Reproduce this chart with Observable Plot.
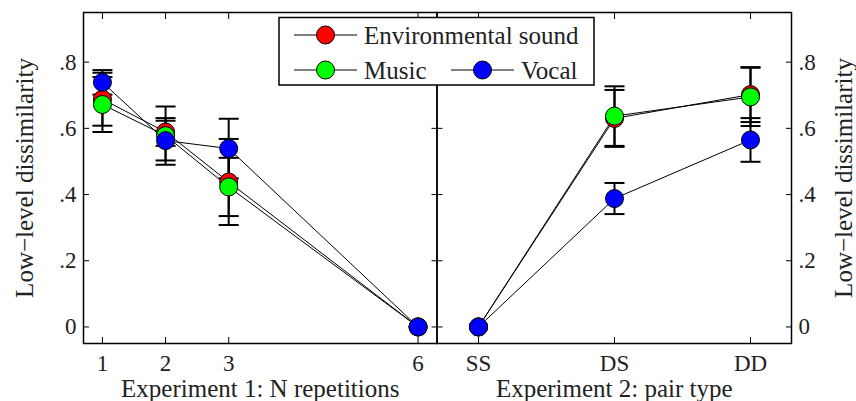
<!DOCTYPE html>
<html>
<head>
<meta charset="utf-8">
<script src="https://cdn.jsdelivr.net/npm/d3@7"></script>
<script src="https://cdn.jsdelivr.net/npm/@observablehq/plot@0.6"></script>
<style>
  body { margin: 0; background: #fff; }
  #chart { position: relative; width: 856px; height: 401px; overflow: hidden;
           font-family: "Liberation Serif", "Times New Roman", serif; color: #222; }
  #chart > svg { position: absolute; top: 0; }
</style>
</head>
<body>
<div id="chart"></div>
<script>
// Sound categories and their marker colours
const seriesNames = ["Environmental sound", "Music", "Vocal"];
const seriesColors = ["#ff0000", "#00ff00", "#0000ff"];

// Experiment 1: number of repetitions
const repetitions = [1, 2, 3, 6];
const exp1Env = [0.688, 0.589, 0.438, 0];
const exp1Music = [0.672, 0.578, 0.423, 0];
const exp1Vocal = [0.739, 0.563, 0.539, 0];
const exp1EnvErr = [0.08, 0.042, 0.13, 0];
const exp1MusicErr = [0.083, 0.088, 0.088, 0];
const exp1VocalErr = [0.037, 0.06, 0.09, 0];

// Experiment 2: pair type
const pairTypes = ["SS", "DS", "DD"];
const exp2Env = [0, 0.630, 0.702];
const exp2Music = [0, 0.637, 0.695];
const exp2Vocal = [0, 0.388, 0.565];
const exp2EnvErr = [0, 0.086, 0.083];
const exp2MusicErr = [0, 0.09, 0.088];
const exp2VocalErr = [0, 0.047, 0.066];

// Shared y axis
const yTicks = [0, 0.2, 0.4, 0.6, 0.8];
const yLabel = "Low\u2212level dissimilarity";

function toRows(xs, values, errors) {
  const rows = [];
  seriesNames.forEach((s, k) => {
    xs.forEach((x, i) => rows.push({series: s, x, y: values[k][i], err: errors[k][i]}));
  });
  return rows;
}

const exp1Rows = toRows(repetitions, [exp1Env, exp1Music, exp1Vocal], [exp1EnvErr, exp1MusicErr, exp1VocalErr]);
const exp2Rows = toRows(pairTypes, [exp2Env, exp2Music, exp2Vocal], [exp2EnvErr, exp2MusicErr, exp2VocalErr]);

const fmtY = d => d === 0 ? "0" : d3.format(".1f")(d).replace(/^0/, "");
const blank = () => "";

// Horizontal cap for the error bars
const capSymbol = {
  draw(ctx, size) {
    const h = Math.sqrt(size / Math.PI);
    ctx.moveTo(-h, 0);
    ctx.lineTo(h, 0);
  }
};

function panel({rows, x, xLabel, width, marginLeft, marginRight, labelSide}) {
  const bars = rows.filter(d => d.err > 0);
  const tickFont = 23;
  const marks = [
    Plot.frame({stroke: "#000", strokeWidth: 1.5}),
    // inward tick marks on all four sides
    Plot.axisY({anchor: "left", ticks: yTicks, tickSize: 6, dx: 6, tickFormat: blank, label: null, stroke: "#000"}),
    Plot.axisY({anchor: "right", ticks: yTicks, tickSize: 6, dx: -6, tickFormat: blank, label: null, stroke: "#000"}),
    Plot.axisX({anchor: "bottom", ticks: x.ticks, tickSize: 6, dy: -6, tickFormat: blank, label: null, stroke: "#000"}),
    Plot.axisX({anchor: "top", ticks: x.ticks, tickSize: 6, dy: 6, tickFormat: blank, label: null, stroke: "#000"}),
    // tick labels
    Plot.axisY({anchor: labelSide, ticks: yTicks, tickSize: 0, tickPadding: 7, tickFormat: fmtY, label: null, fontSize: tickFont}),
    Plot.axisX({anchor: "bottom", ticks: x.ticks, tickSize: 0, tickPadding: 11, tickFormat: x.format, label: null, fontSize: tickFont}),
    // axis titles
    Plot.text([yLabel], {frameAnchor: labelSide, rotate: -90, textAnchor: "middle", lineAnchor: "middle",
                         dx: labelSide === "left" ? -59 : 52, fontSize: 25, fill: "#222"}),
    Plot.text([xLabel], {frameAnchor: "bottom", textAnchor: "middle", lineAnchor: "middle", dy: 45, fontSize: 25, fill: "#222"}),
    // error bars
    Plot.ruleX(bars, {x: "x", y1: d => d.y - d.err, y2: d => d.y + d.err, stroke: "#000", strokeWidth: 2}),
    Plot.dot(bars, {x: "x", y: d => d.y - d.err, symbol: capSymbol, r: 10, stroke: "#000", strokeWidth: 2, fill: "none"}),
    Plot.dot(bars, {x: "x", y: d => d.y + d.err, symbol: capSymbol, r: 10, stroke: "#000", strokeWidth: 2, fill: "none"}),
    // connecting lines and markers
    Plot.line(rows, {x: "x", y: "y", z: "series", stroke: "#000", strokeWidth: 1}),
    Plot.dot(rows, {x: "x", y: "y", r: 9, fill: "series", stroke: "#000", strokeWidth: 1})
  ];
  return Plot.plot({
    width, height: 401,
    marginLeft, marginRight, marginTop: 12, marginBottom: 58,
    style: {background: "transparent", fontFamily: "Liberation Serif", fontSize: "23px", color: "#222", overflow: "visible"},
    x: x.scale,
    y: {domain: [-0.05, 0.95]},
    color: {domain: seriesNames, range: seriesColors},
    marks
  });
}

const chart = document.getElementById("chart");

const left = panel({
  rows: exp1Rows,
  x: {scale: {type: "linear", domain: [0.7, 6.3]}, ticks: repetitions, format: d3.format("d")},
  xLabel: "Experiment 1: N repetitions",
  width: 440, marginLeft: 83, marginRight: 3.5, labelSide: "left"
});
left.style.left = "0px";
chart.appendChild(left);

const right = panel({
  rows: exp2Rows,
  x: {scale: {type: "point", domain: pairTypes, padding: 0.3}, ticks: pairTypes, format: d => d},
  xLabel: "Experiment 2: pair type",
  width: 436, marginLeft: 16.5, marginRight: 65, labelSide: "right"
});
right.style.left = "420px";
chart.appendChild(right);

// Legend box drawn on top of both panels
const legend = d3.create("svg")
  .attr("width", 856).attr("height", 401)
  .style("left", "0px").style("pointer-events", "none");
legend.append("rect")
  .attr("x", 279).attr("y", 17.5).attr("width", 315).attr("height", 67.5)
  .attr("fill", "#fff").attr("stroke", "#000").attr("stroke-width", 1.5);
const entries = [
  {name: seriesNames[0], color: seriesColors[0], x: 294, y: 35},
  {name: seriesNames[1], color: seriesColors[1], x: 294, y: 70},
  {name: seriesNames[2], color: seriesColors[2], x: 451, y: 70}
];
const g = legend.selectAll("g").data(entries).join("g")
  .attr("transform", d => `translate(${d.x},${d.y})`);
g.append("line").attr("x1", 0).attr("x2", 63).attr("stroke", "#000").attr("stroke-width", 1);
g.append("circle").attr("cx", 31.5).attr("r", 9).attr("fill", d => d.color).attr("stroke", "#000");
g.append("text").attr("x", 70).attr("y", 8.5)
  .attr("font-family", "Liberation Serif").attr("font-size", 25).attr("fill", "#222")
  .text(d => d.name);
chart.appendChild(legend.node());
</script>
</body>
</html>
